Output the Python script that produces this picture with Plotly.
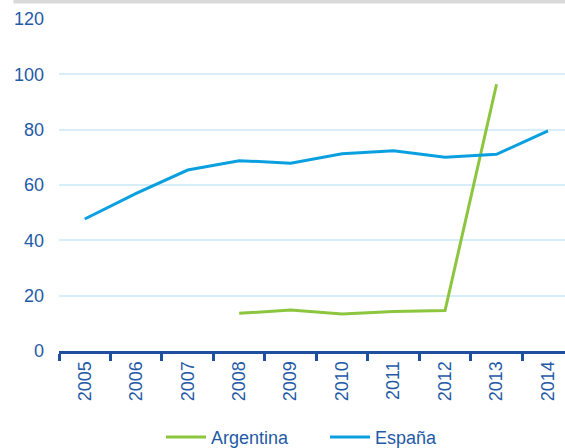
import plotly.graph_objects as go

years = ["2005", "2006", "2007", "2008", "2009", "2010", "2011", "2012", "2013", "2014"]
argentina = [None, None, None, 13.6, 14.8, 13.4, 14.3, 14.6, 96.4, None]
espana = [47.7, 57.0, 65.4, 68.8, 67.9, 71.3, 72.4, 70.0, 71.1, 79.6]

text_color = "#1f5aa6"
axis_color = "#1f4f9f"
font_family = "Liberation Sans, Arial, sans-serif"

fig = go.Figure()
fig.add_trace(go.Scatter(x=years, y=argentina, name="Argentina", mode="lines",
                         line=dict(color="#8cc63e", width=3)))
fig.add_trace(go.Scatter(x=years, y=espana, name="España", mode="lines",
                         line=dict(color="#0aa0e0", width=3)))

# grey rule along the top edge of the page (plot area is 332 px tall, top margin 19 px)
top_rule_y = 1 + 17.5 / 332

fig.update_layout(
    width=565, height=448,
    margin=dict(l=59, r=0, t=19, b=97, autoexpand=False),
    paper_bgcolor="white", plot_bgcolor="white",
    font=dict(family=font_family, color=text_color, size=18),
    showlegend=True,
    legend=dict(orientation="h", xref="container", x=161 / 565, xanchor="left",
                yref="container", y=0.024, yanchor="middle",
                entrywidth=109, entrywidthmode="pixels",
                font=dict(size=18, color=text_color), itemwidth=40),
    xaxis=dict(type="category", range=[-0.5, 9.33], tickson="boundaries",
               automargin=False,
               ticks="outside", ticklen=7, tickwidth=3, tickcolor=axis_color,
               showline=True, linecolor=axis_color, linewidth=3,
               showgrid=False, tickangle=-90, tickfont=dict(size=18, color=text_color)),
    yaxis=dict(range=[0, 120], dtick=20, showgrid=True, gridcolor="#d5eef9", gridwidth=2,
               automargin=False,
               zeroline=False, showline=False, ticks="", ticklabelstandoff=14,
               tickfont=dict(size=18, color=text_color)),
    shapes=[dict(type="line", xref="paper", yref="paper", x0=-0.09, x1=1.0,
                 y0=top_rule_y, y1=top_rule_y, line=dict(color="#d9d9d9", width=4))],
)

fig.write_html("out.html")
